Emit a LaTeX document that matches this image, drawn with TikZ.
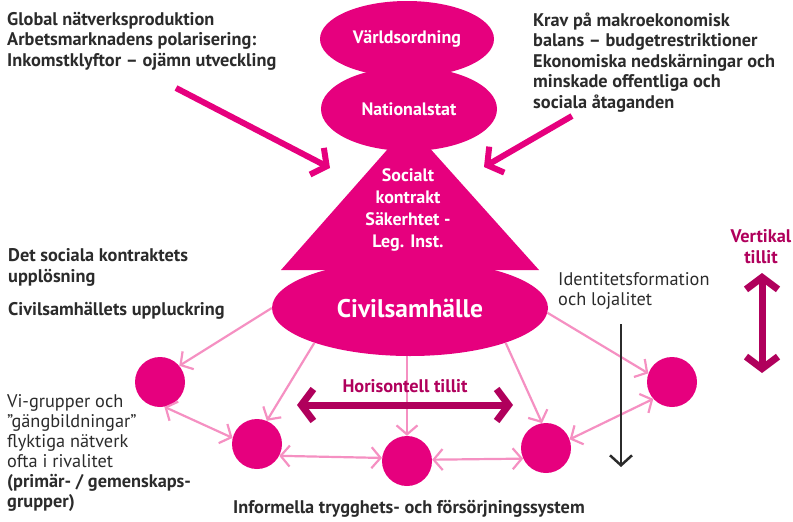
\documentclass[tikz,border=0pt]{standalone}
\usepackage{fontspec}
\setmainfont{PT Sans}
\usetikzlibrary{arrows.meta,shapes.geometric}
\definecolor{mag}{HTML}{E6007E}
\definecolor{lpink}{HTML}{F590C2}
\definecolor{dmag}{HTML}{B0005C}
\definecolor{ink}{HTML}{2B2B2B}
\tikzset{
  blob/.style={ellipse, fill=mag, inner sep=0pt, text=white, font=\fontsize{18}{20}\selectfont\bfseries},
  dot/.style={circle, fill=mag, minimum size=50pt, inner sep=0pt},
  pbarb/.style={Straight Barb[length=9pt,width=21pt]},
  conn/.style={lpink, line width=2.2pt, -{Straight Barb[length=9pt,width=21pt]}},
  conn2/.style={lpink, line width=2.2pt, {Straight Barb[length=9pt,width=21pt]}-{Straight Barb[length=9pt,width=21pt]}},
  bigarrow/.style={mag, line width=6pt, -{Straight Barb[length=11pt,width=30pt]}},
  trust/.style={dmag, line width=7pt, {Straight Barb[length=12pt,width=32pt]}-{Straight Barb[length=12pt,width=32pt]}},
  boldtxt/.style={inner sep=0pt, anchor=base west, align=left, text=ink, font=\fontsize{18.3}{20.5}\selectfont\bfseries},
  regtxt/.style={inner sep=0pt, anchor=base west, align=left, text=ink, font=\fontsize{18.3}{20}\selectfont},
  trusttxt/.style={inner sep=0pt, anchor=base, align=center, text=dmag, font=\fontsize{18.3}{20.5}\selectfont\bfseries},
}
\begin{document}
\begin{tikzpicture}[x=1pt,y=-1pt]
\useasboundingbox (0,0) rectangle (793,522);
% pyramid
\node[blob, minimum width=174pt, minimum height=76pt] (vo) at (407,39) {Världsordning};
\node[blob, minimum width=176pt, minimum height=84pt] (ns) at (409,109) {Nationalstat};
\fill[mag] (409,125) -- (539,270) -- (281,270) -- cycle;
\node[blob, minimum width=276pt, minimum height=96pt, font=\fontsize{25.5}{28}\selectfont\bfseries] (civ) at (410,308) {Civilsamhälle};
\node[inner sep=0pt, anchor=base, align=center, text=white, font=\fontsize{18}{21.7}\selectfont\bfseries] (soc) at (408,247) {Socialt\\kontrakt\\Säkerhtet -\\Leg. Inst.};
% circles
\node[dot] (c1) at (160,382) {};
\node[dot] (c2) at (257,444) {};
\node[dot] (c3) at (407,461) {};
\node[dot] (c4) at (546,448) {};
\node[dot] (c5) at (672,382) {};
% connectors
\draw[conn] (civ.180) -- (c1.40);
\draw[conn] (civ.200) -- (c2.67);
\draw[conn] (c3 |- civ.south) -- (c3.north);
\draw[conn] (civ.340) -- (c4.99);
\draw[conn] (civ.358) -- (c5.160);
\draw[conn2] (c1.280) -- (c2.166);
\draw[conn2] (c2.-28) -- (c3.173);
\draw[conn2] (c3.3) -- (c4.205);
\draw[conn2] (c4.20) -- (c5.222);
% big pink arrows
\coordinate (la) at (176,88);
\coordinate (lb) at (330,168);
\coordinate (ra) at (572,116);
\coordinate (rb) at (484,167);
\draw[bigarrow] (la) -- (lb);
\draw[bigarrow] (ra) -- (rb);
% trust arrows
\coordinate (hl) at (297,405);
\coordinate (hr) at (513,405);
\draw[trust] (hl) -- (hr);
\coordinate (vt) at (762,273);
\coordinate (vb) at (762,373);
\draw[trust] (vt) -- (vb);
% black arrow
\coordinate (bt) at (621,324);
\coordinate (bb) at (621,467);
\draw[ink, line width=2.5pt, -{Straight Barb[length=10pt,width=22pt]}] (bt) -- (bb);
% texts
\node[boldtxt] (t1) at (7,66) {Global nätverksproduktion\\Arbetsmarknadens polarisering:\\Inkomstklyftor – ojämn utveckling};
\node[boldtxt] (t2) at (533,108) {Krav på makroekonomisk\\balans – budgetrestriktioner\\Ekonomiska nedskärningar och\\minskade offentliga och\\sociala åtaganden};
\node[boldtxt] (t3) at (8,282) {Det sociala kontraktets\\upplösning};
\node[boldtxt] (t4) at (8,315) {Civilsamhällets uppluckring};
\node[regtxt] (t5) at (558,305) {Identitetsformation\\och lojalitet};
\node[regtxt] (t6) at (7,507) {Vi-grupper och\\”gängbildningar”\\flyktiga nätverk\\ofta i rivalitet\\\textbf{(primär- / gemenskaps-}\\\textbf{grupper)}};
\node[boldtxt] (t7) at (233,513) {Informella trygghets- och försörjningssystem};
\node[trusttxt] (t8) at (405,392) {Horisontell tillit};
\node[trusttxt] (t9) at (761,263) {Vertikal\\tillit};
\end{tikzpicture}
\end{document}
